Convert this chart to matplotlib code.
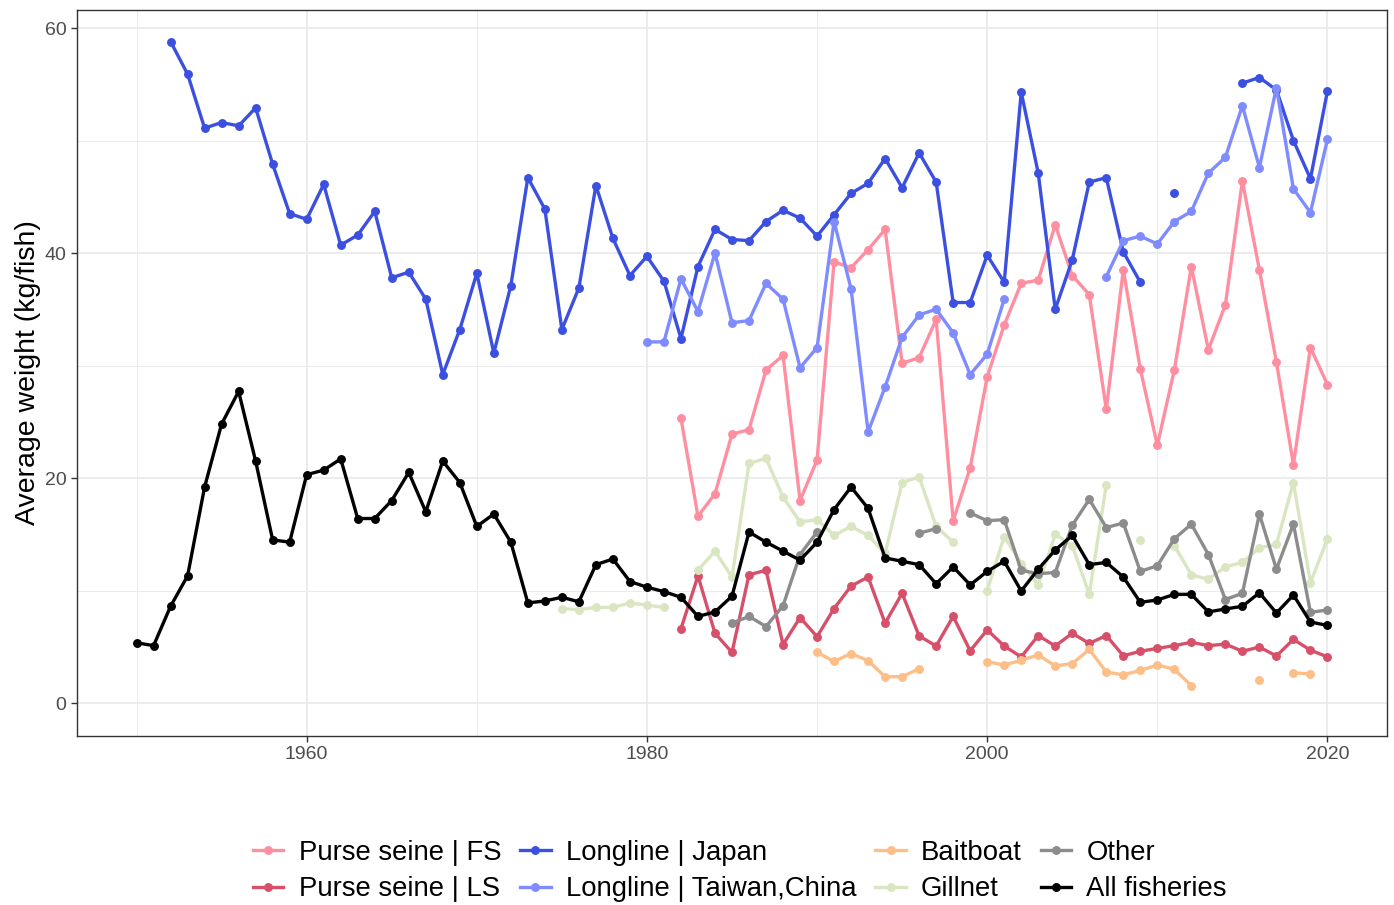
import numpy as np
import matplotlib
matplotlib.use('Agg')
from matplotlib import pyplot as plt
from matplotlib.ticker import MultipleLocator

plt.rcParams['font.family'] = ['Liberation Sans', 'DejaVu Sans']

nan = np.nan
years = np.arange(1950, 2021)

# average weight per fishery (kg/fish); nan where no data
ps_fs = {1982: 25.3, 1983: 16.6, 1984: 18.6, 1985: 23.9, 1986: 24.3, 1987: 29.6, 1988: 30.9,
         1989: 18.0, 1990: 21.6, 1991: 39.2, 1992: 38.7, 1993: 40.3, 1994: 42.1, 1995: 30.2,
         1996: 30.7, 1997: 34.1, 1998: 16.2, 1999: 20.9, 2000: 29.0, 2001: 33.6, 2002: 37.3,
         2003: 37.6, 2004: 42.5, 2005: 38.0, 2006: 36.3, 2007: 26.1, 2008: 38.5, 2009: 29.7,
         2010: 22.9, 2011: 29.6, 2012: 38.8, 2013: 31.4, 2014: 35.4, 2015: 46.4, 2016: 38.5,
         2017: 30.3, 2018: 21.2, 2019: 31.6, 2020: 28.3}

ps_ls = {1982: 6.6, 1983: 11.3, 1984: 6.2, 1985: 4.5, 1986: 11.4, 1987: 11.8, 1988: 5.2,
         1989: 7.6, 1990: 5.9, 1991: 8.4, 1992: 10.4, 1993: 11.2, 1994: 7.1, 1995: 9.75,
         1996: 5.96, 1997: 5.07, 1998: 7.7, 1999: 4.65, 2000: 6.5, 2001: 5.07, 2002: 4.1,
         2003: 6.0, 2004: 5.07, 2005: 6.2, 2006: 5.3, 2007: 6.0, 2008: 4.2, 2009: 4.6,
         2010: 4.86, 2011: 5.1, 2012: 5.4, 2013: 5.1, 2014: 5.24, 2015: 4.6, 2016: 4.98,
         2017: 4.18, 2018: 5.66, 2019: 4.7, 2020: 4.1}

ll_japan = {1952: 58.8, 1953: 55.9, 1954: 51.1, 1955: 51.6, 1956: 51.3, 1957: 52.9, 1958: 47.9,
            1959: 43.5, 1960: 43.0, 1961: 46.1, 1962: 40.7, 1963: 41.6, 1964: 43.7, 1965: 37.8,
            1966: 38.3, 1967: 35.9, 1968: 29.2, 1969: 33.2, 1970: 38.2, 1971: 31.1, 1972: 37.1,
            1973: 46.7, 1974: 43.9, 1975: 33.2, 1976: 36.9, 1977: 46.0, 1978: 41.3, 1979: 38.0,
            1980: 39.7, 1981: 37.5, 1982: 32.4, 1983: 38.8, 1984: 42.1, 1985: 41.2, 1986: 41.1,
            1987: 42.8, 1988: 43.8, 1989: 43.1, 1990: 41.5, 1991: 43.4, 1992: 45.3, 1993: 46.2,
            1994: 48.4, 1995: 45.8, 1996: 48.9, 1997: 46.3, 1998: 35.6, 1999: 35.6, 2000: 39.8,
            2001: 37.4, 2002: 54.3, 2003: 47.1, 2004: 35.0, 2005: 39.4, 2006: 46.3, 2007: 46.7,
            2008: 40.1, 2009: 37.4, 2011: 45.3, 2015: 55.1, 2016: 55.6, 2017: 54.5, 2018: 50.0,
            2019: 46.6, 2020: 54.4}

ll_taiwan = {1980: 32.1, 1981: 32.1, 1982: 37.7, 1983: 34.8, 1984: 40.0, 1985: 33.8, 1986: 34.0,
             1987: 37.3, 1988: 35.9, 1989: 29.8, 1990: 31.6, 1991: 42.8, 1992: 36.8, 1993: 24.1,
             1994: 28.1, 1995: 32.5, 1996: 34.5, 1997: 35.0, 1998: 32.9, 1999: 29.2, 2000: 31.0,
             2001: 35.9, 2007: 37.9, 2008: 41.1, 2009: 41.5, 2010: 40.8, 2011: 42.8, 2012: 43.7,
             2013: 47.1, 2014: 48.5, 2015: 53.1, 2016: 47.6, 2017: 54.7, 2018: 45.7, 2019: 43.6,
             2020: 50.1}

baitboat = {1990: 4.5, 1991: 3.7, 1992: 4.4, 1993: 3.76, 1994: 2.34, 1995: 2.34, 1996: 3.05,
            2000: 3.67, 2001: 3.38, 2002: 3.8, 2003: 4.27, 2004: 3.3, 2005: 3.5, 2006: 4.77,
            2007: 2.76, 2008: 2.5, 2009: 2.9, 2010: 3.38, 2011: 3.0, 2012: 1.54, 2016: 2.04,
            2018: 2.7, 2019: 2.58}

gillnet = {1975: 8.4, 1976: 8.3, 1977: 8.5, 1978: 8.5, 1979: 8.9, 1980: 8.7, 1981: 8.5,
           1983: 11.8, 1984: 13.5, 1985: 11.2, 1986: 21.3, 1987: 21.75, 1988: 18.3, 1989: 16.1,
           1990: 16.3, 1991: 14.9, 1992: 15.7, 1993: 14.9, 1994: 13.3, 1995: 19.6, 1996: 20.1,
           1997: 15.7, 1998: 14.3, 2000: 10.0, 2001: 14.8, 2002: 12.4, 2003: 10.5, 2004: 15.0,
           2005: 14.0, 2006: 9.66, 2007: 19.4, 2009: 14.5, 2011: 14.0, 2012: 11.4, 2013: 11.0,
           2014: 12.1, 2015: 12.5, 2016: 13.8, 2017: 14.1, 2018: 19.6, 2019: 10.7, 2020: 14.6}

other = {1985: 7.1, 1986: 7.7, 1987: 6.8, 1988: 8.65, 1989: 13.2, 1990: 15.2, 1996: 15.1,
         1997: 15.5, 1999: 16.9, 2000: 16.2, 2001: 16.3, 2002: 11.8, 2003: 11.5, 2004: 11.6,
         2005: 15.8, 2006: 18.1, 2007: 15.6, 2008: 16.0, 2009: 11.7, 2010: 12.2, 2011: 14.6,
         2012: 15.9, 2013: 13.2, 2014: 9.2, 2015: 9.75, 2016: 16.8, 2017: 11.9, 2018: 15.9,
         2019: 8.06, 2020: 8.27}

all_fisheries = {1950: 5.36, 1951: 5.1, 1952: 8.6, 1953: 11.3, 1954: 19.2, 1955: 24.8, 1956: 27.7,
                 1957: 21.5, 1958: 14.5, 1959: 14.3, 1960: 20.3, 1961: 20.7, 1962: 21.7, 1963: 16.4,
                 1964: 16.4, 1965: 18.0, 1966: 20.5, 1967: 17.0, 1968: 21.5, 1969: 19.6, 1970: 15.7,
                 1971: 16.8, 1972: 14.3, 1973: 8.9, 1974: 9.07, 1975: 9.4, 1976: 9.0, 1977: 12.3,
                 1978: 12.8, 1979: 10.8, 1980: 10.3, 1981: 9.9, 1982: 9.4, 1983: 7.7, 1984: 8.1,
                 1985: 9.5, 1986: 15.2, 1987: 14.3, 1988: 13.5, 1989: 12.7, 1990: 14.3, 1991: 17.2,
                 1992: 19.2, 1993: 17.3, 1994: 12.9, 1995: 12.6, 1996: 12.3, 1997: 10.6, 1998: 12.1,
                 1999: 10.5, 2000: 11.7, 2001: 12.6, 2002: 9.96, 2003: 11.9, 2004: 13.6, 2005: 14.9,
                 2006: 12.3, 2007: 12.5, 2008: 11.2, 2009: 8.95, 2010: 9.16, 2011: 9.66, 2012: 9.66,
                 2013: 8.1, 2014: 8.36, 2015: 8.6, 2016: 9.8, 2017: 8.0, 2018: 9.6, 2019: 7.2,
                 2020: 6.9}

labels = ['Purse seine | FS', 'Purse seine | LS', 'Longline | Japan', 'Longline | Taiwan,China',
          'Baitboat', 'Gillnet', 'Other', 'All fisheries']
series = [ps_fs, ps_ls, ll_japan, ll_taiwan, baitboat, gillnet, other, all_fisheries]
colors = ['#FF8FA0', '#D6506A', '#3B4FE0', '#7F8CFF', '#FDBF87', '#D9E6C1', '#8C8C8C', '#000000']


def to_array(d):
    return np.array([d.get(y, nan) for y in years])


fig = plt.figure(figsize=(13.94, 9.05), dpi=100)
ax = fig.add_axes([77 / 1394, 1 - 736 / 905, 1310 / 1394, 726 / 905])

for d, lab, col in zip(series, labels, colors):
    ax.plot(years, to_array(d), '-o', color=col, lw=2.4, ms=5.4, label=lab,
            solid_joinstyle='round', zorder=3)

ax.set_xlim(1946.5, 2023.5)
ax.set_ylim(-2.93, 61.6)
ax.xaxis.set_minor_locator(MultipleLocator(10))
ax.yaxis.set_major_locator(MultipleLocator(20))
ax.yaxis.set_minor_locator(MultipleLocator(10))
ax.set_xticks([1960, 1980, 2000, 2020])
ax.grid(which='major', color='#EBEBEB', lw=1.3, zorder=0)
ax.grid(which='minor', color='#EBEBEB', lw=0.7, zorder=0)
ax.set_axisbelow(True)
ax.tick_params(which='major', length=4.5, width=1.0, color='#333333',
               labelcolor='#4D4D4D', labelsize=14, pad=3)
ax.tick_params(which='minor', length=0)
for s in ax.spines.values():
    s.set_color('#333333')
    s.set_linewidth(1.0)

ax.set_ylabel('Average weight (kg/fish)', fontsize=20.5, labelpad=3)

fig.legend(loc='center', bbox_to_anchor=(740 / 1394, 1 - 871 / 905), ncol=4,
           frameon=False, fontsize=19.8, handlelength=1.1, handletextpad=0.55,
           columnspacing=0.7, labelspacing=0.38)

fig.savefig('out.png', dpi=100)
